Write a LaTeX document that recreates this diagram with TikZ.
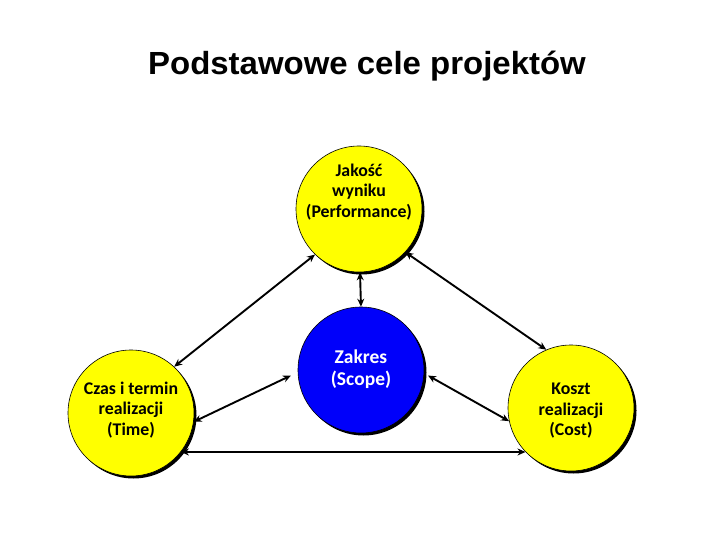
\documentclass[tikz,border=0pt]{standalone}
\usepackage{fontspec}
\setmainfont{Carlito}
\newfontfamily\titlefont{Liberation Sans}
\usetikzlibrary{arrows.meta,shadows}
\definecolor{yel}{RGB}{255,255,0}
\definecolor{blu}{RGB}{0,0,250}
\tikzset{
  circ/.style={circle, draw=black, line width=0.6pt, minimum size=126pt, inner sep=0pt,
    drop shadow={shadow xshift=2.5pt, shadow yshift=-2.5pt, fill=black, opacity=1}},
  ycirc/.style={circ, fill=yel},
  bcirc/.style={circ, fill=blu},
  txt/.style={align=center, font=\fontsize{17.8pt}{20.5pt}\selectfont\bfseries, inner sep=0pt},
  conn/.style={line width=1.9pt, {Stealth[length=8pt,width=7pt]}-{Stealth[length=8pt,width=7pt]}}
}
\begin{document}
\begin{tikzpicture}[x=1pt,y=-1pt]
\useasboundingbox (0,0) rectangle (720,540);
\node[xscale=1.03, font=\titlefont\fontsize{32pt}{36pt}\selectfont\bfseries] (title) at (367,66) {Podstawowe cele projektów};

\node[ycirc] (top) at (359,209) {};
\node[ycirc] (time) at (131,413) {};
\node[ycirc] (cost) at (571,408) {};
\node[bcirc] (scope) at (361,370) {};

\node[txt] (ttop) at (359,192) {Jakość\\wyniku\\(Performance)};
\node[txt] (ttime) at (131,410) {Czas i termin\\realizacji\\(Time)};
\node[txt] (tcost) at (571,411) {Koszt\\realizacji\\(Cost)};
\node[txt, text=white, font=\fontsize{19.5pt}{22pt}\selectfont\bfseries] (tscope) at (361,369) {Zakres\\(Scope)};

\draw[conn] (top.226) -- (time.47);
\draw[conn] (top.-43) -- (cost.113);
\draw[conn] ([xshift=1pt]top.south) -- (scope.north);
\draw[conn] ([xshift=-7pt]scope.185) -- (time.-8);
\draw[conn] ([xshift=4pt]scope.-5) -- (cost.192);
\draw[conn] (time.-38) -- (cost.224);
\end{tikzpicture}
\end{document}
